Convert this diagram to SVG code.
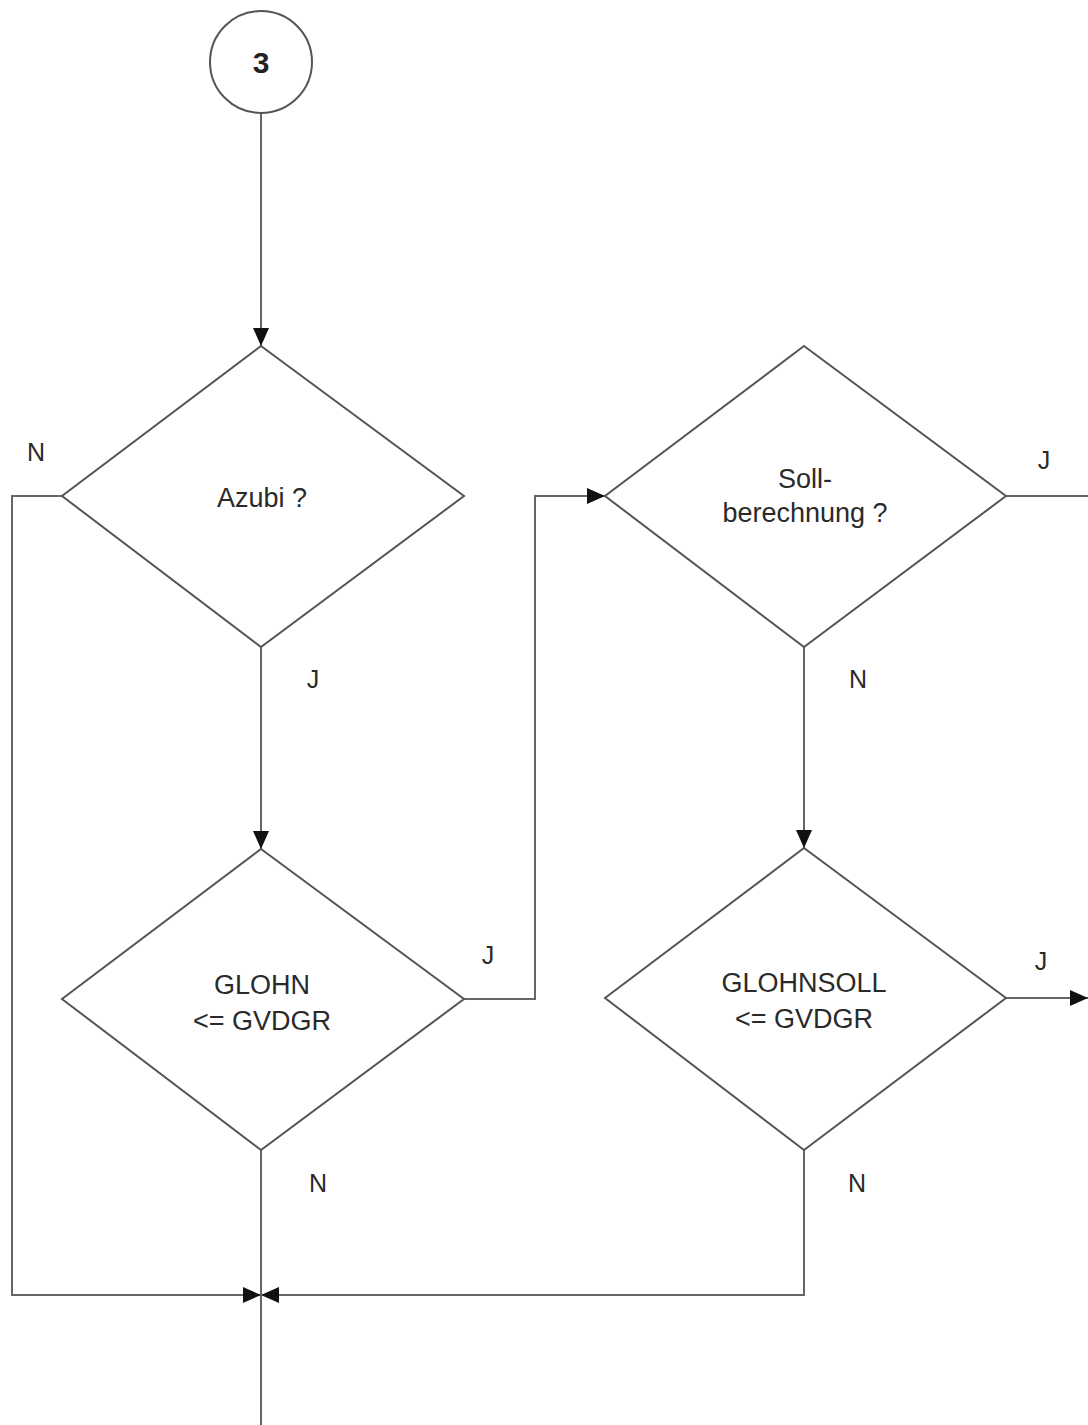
<svg xmlns="http://www.w3.org/2000/svg" width="1088" height="1425" viewBox="0 0 1088 1425">
<defs>
<style>
.shape{fill:#fff;stroke:#555;stroke-width:2}
.edge{fill:none;stroke:#666;stroke-width:2}
.t{font-family:"Liberation Sans",Arial,sans-serif;font-size:27px;fill:#2a2a2a;text-anchor:middle}
.lbl{font-family:"Liberation Sans",Arial,sans-serif;font-size:25px;fill:#2a2a2a;text-anchor:middle}
.num{font-family:"Liberation Sans",Arial,sans-serif;font-size:30px;font-weight:bold;fill:#222;text-anchor:middle}
</style>
<marker id="arr" viewBox="0 0 18 16" refX="18" refY="8" markerWidth="18" markerHeight="16" markerUnits="userSpaceOnUse" orient="auto">
<path d="M0,0 L18,8 L0,16 Z" fill="#111"/>
</marker>
</defs>
<rect width="1088" height="1425" fill="#fff"/>
<g id="connectors">
<path class="edge" d="M261,113 V346" marker-end="url(#arr)"/>
<path class="edge" d="M261,647 V849" marker-end="url(#arr)"/>
<path class="edge" d="M62,496 H12 V1295 H261" marker-end="url(#arr)"/>
<path class="edge" d="M464,999 H535 V496 H605" marker-end="url(#arr)"/>
<path class="edge" d="M1006,496 H1088"/>
<path class="edge" d="M804,647 V848" marker-end="url(#arr)"/>
<path class="edge" d="M1006,998 H1088" marker-end="url(#arr)"/>
<path class="edge" d="M804,1150 V1295 H261" marker-end="url(#arr)"/>
<path class="edge" d="M261,1150 V1425"/>
<text class="lbl" x="36" y="461">N</text>
<text class="lbl" x="313" y="688">J</text>
<text class="lbl" x="488" y="964">J</text>
<text class="lbl" x="318" y="1192">N</text>
<text class="lbl" x="1044" y="469">J</text>
<text class="lbl" x="858" y="688">N</text>
<text class="lbl" x="1041" y="970">J</text>
<text class="lbl" x="857" y="1192">N</text>
</g>
<g id="start">
<circle class="shape" cx="261" cy="62" r="51"/>
<text class="num" x="261" y="73">3</text>
</g>
<g id="azubi">
<polygon class="shape" points="261,346 464,496 261,647 62,496"/>
<text class="t" x="262" y="507">Azubi ?</text>
</g>
<g id="glohn">
<polygon class="shape" points="261,849 464,999 261,1150 62,999"/>
<text class="t" x="262" y="994">GLOHN</text>
<text class="t" x="262" y="1030">&lt;= GVDGR</text>
</g>
<g id="sollberechnung">
<polygon class="shape" points="804,346 1006,496 804,647 605,496"/>
<text class="t" x="805" y="488">Soll-</text>
<text class="t" x="805" y="522">berechnung ?</text>
</g>
<g id="glohnsoll">
<polygon class="shape" points="804,848 1006,998 804,1150 605,998"/>
<text class="t" x="804" y="992">GLOHNSOLL</text>
<text class="t" x="804" y="1028">&lt;= GVDGR</text>
</g>
</svg>
